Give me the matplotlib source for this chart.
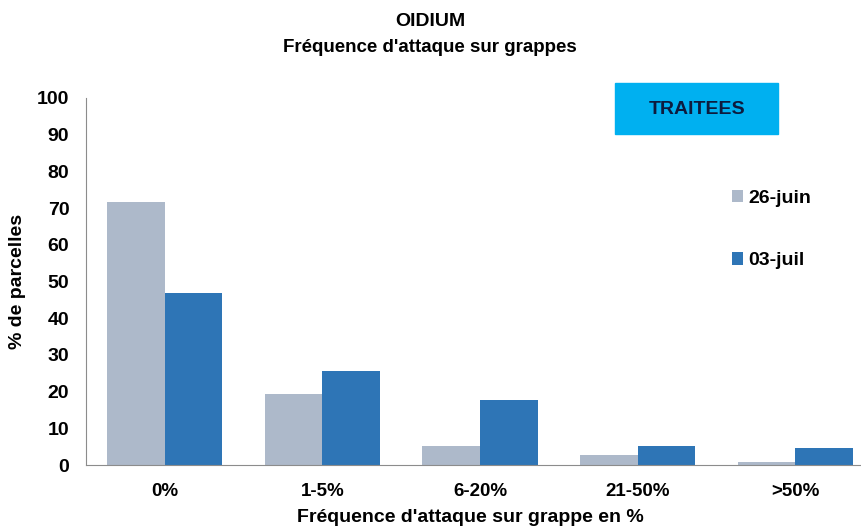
import matplotlib.pyplot as plt
import numpy as np

plt.rcParams['font.family'] = ['Liberation Sans', 'DejaVu Sans']
plt.rcParams['font.weight'] = 'bold'

# data
categories = ['0%', '1-5%', '6-20%', '21-50%', '>50%']
juin_26 = [71.7, 19.3, 5.1, 2.7, 0.7]
juil_03 = [46.9, 25.6, 17.6, 5.1, 4.5]
series_names = ['26-juin', '03-juil']

gray = '#ADB9CA'
blue = '#2E75B6'

W, H = 861, 527
fig = plt.figure(figsize=(W / 100, H / 100), dpi=100)
ax = fig.add_axes([86 / W, (H - 465) / H, (874 - 86) / W, (465 - 98) / H])

x = np.arange(len(categories))
bw = 0.365
ax.bar(x - bw / 2, juin_26, bw, color=gray, label=series_names[0])
ax.bar(x + bw / 2, juil_03, bw, color=blue, label=series_names[1])

ax.set_xlim(-0.5, len(categories) - 0.5)
ax.set_ylim(0, 100)
ax.set_yticks(range(0, 101, 10))
ax.set_xticks(x)
ax.set_xticklabels(categories)
ax.tick_params(axis='y', length=0, labelsize=14, pad=12)
ax.tick_params(axis='x', length=0, labelsize=13.5, pad=13)
for s in ['top', 'right']:
    ax.spines[s].set_visible(False)
for s in ['left', 'bottom']:
    ax.spines[s].set_color('#8C8C8C')

fig.text(18 / W, 1 - 281 / H, '% de parcelles', rotation=90, ha='center', va='center',
         fontsize=14, fontweight='bold')
fig.text(470 / W, 1 - 517 / H, "Fréquence d'attaque sur grappe en %", ha='center', va='center',
         fontsize=14, fontweight='bold')

fig.text(430 / W, 1 - 21 / H, 'OIDIUM', ha='center', va='center', fontsize=14, fontweight='bold')
fig.text(430 / W, 1 - 47 / H, "Fréquence d'attaque sur grappes", ha='center', va='center',
         fontsize=13.5, fontweight='bold')

# TRAITEES box
fig.patches.append(plt.Rectangle((615 / W, 1 - 134 / H), (778 - 615) / W, (134 - 83) / H,
                                 transform=fig.transFigure, color='#00B0F0', zorder=0))
fig.text(697 / W, 1 - 109 / H, 'TRAITEES', ha='center', va='center', fontsize=14,
         fontweight='bold', color='#0D1B3E')

ax.legend(loc='upper left', bbox_to_anchor=(714 / W, 1 - 172 / H), bbox_transform=fig.transFigure,
          frameon=False, fontsize=14, handlelength=0.6, handleheight=0.6, handletextpad=0.25,
          labelspacing=2.35)

fig.savefig('out.png', dpi=100)
